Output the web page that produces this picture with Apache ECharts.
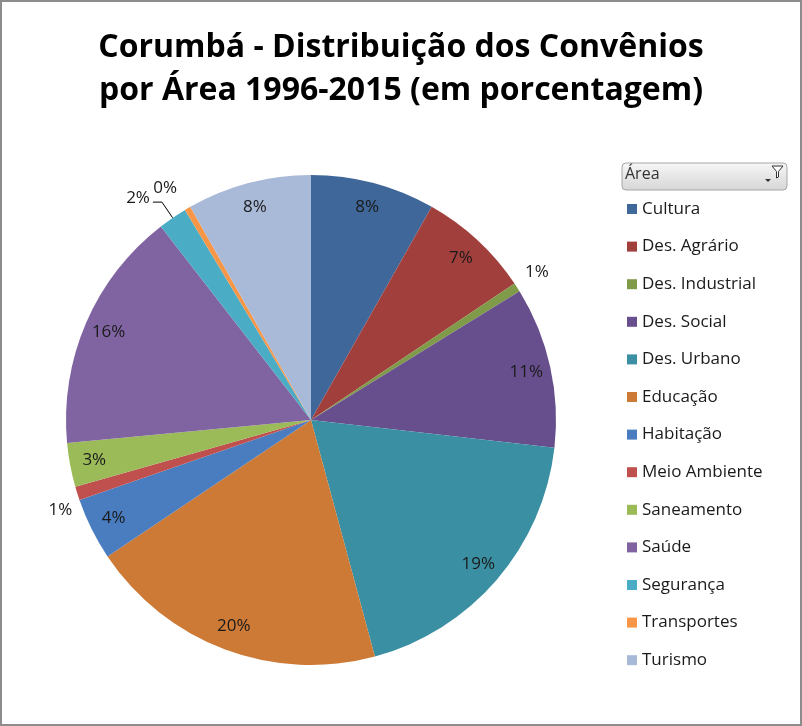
<!DOCTYPE html>
<html>
<head>
<meta charset="utf-8">
<script src="https://cdn.jsdelivr.net/npm/echarts@6/dist/echarts.min.js"></script>
<style>
  html, body { margin: 0; padding: 0; background: #fff; }
  #chart {
    width: 802px;
    height: 726px;
    box-sizing: border-box;
    border: 2px solid #8c8c8c;
  }
</style>
</head>
<body>
<div id="chart"></div>
<script>
const areas = ['Cultura', 'Des. Agrário', 'Des. Industrial', 'Des. Social', 'Des. Urbano', 'Educação',
  'Habitação', 'Meio Ambiente', 'Saneamento', 'Saúde', 'Segurança', 'Transportes', 'Turismo']
const shares = [8.2, 7.4, 0.6, 10.6, 19.0, 19.8, 4.1, 0.9, 2.9, 16.0, 1.9, 0.4, 8.2]

const colors = ['#3f679a', '#a13f3c', '#7f9a48', '#674e8c', '#3a8fa3', '#cd7a37',
  '#4a7dc0', '#c0504d', '#9bbb59', '#8064a2', '#4bacc6', '#f79646', '#a9b9d8']

// small slices get their labels outside, like Excel's best fit
const outside = {
  2: { length: 6, length2: 0, line: false, dy: -12 },
  7: { length: 2, length2: 0, line: false, dy: 16 },
  10: { length: 19, length2: 9, line: true, dy: -4 },
  11: { length: 15, length2: 0, line: false, dy: -7 }
}

const font = '"Open Sans", "Noto Sans", sans-serif'
const CX = 309
const CY = 418
const R = 245

const chart = echarts.init(document.getElementById('chart'), null, { renderer: 'canvas' })

function pctLabel(p) {
  return Math.round(p.percent) + '%'
}

const mainData = areas.map((name, i) => {
  const o = outside[i]
  const item = { name: name, value: shares[i] }
  if (o) {
    item.label = { show: true, position: 'outside' }
    item.labelLine = { show: o.line, length: o.length, length2: o.length2 }
  }
  return item
})

const innerLabelData = areas.map((name, i) => {
  return { name: name, value: shares[i], label: { show: !outside[i] } }
})

const option = {
  color: colors,
  animation: false,
  title: {
    text: 'Corumbá - Distribuição dos Convênios\npor Área 1996-2015 (em porcentagem)',
    left: 'center',
    top: 19,
    textStyle: {
      fontFamily: font,
      fontSize: 32,
      fontWeight: 'bold',
      color: '#000',
      lineHeight: 43
    }
  },
  legend: {
    orient: 'vertical',
    left: 620,
    top: 192,
    data: areas,
    icon: 'rect',
    itemWidth: 10,
    itemHeight: 10,
    itemGap: 17.6,
    selectedMode: false,
    textStyle: {
      fontFamily: font,
      fontSize: 17,
      color: '#1a1a1a',
      lineHeight: 20,
      padding: [0, 0, 0, 0]
    }
  },
  graphic: [
    {
      type: 'rect',
      shape: { x: 620, y: 161, width: 165, height: 27, r: 4 },
      style: {
        fill: new echarts.graphic.LinearGradient(0, 0, 0, 1, [
          { offset: 0, color: '#f7f7f7' },
          { offset: 1, color: '#d6d6d6' }
        ]),
        stroke: '#a6a6a6',
        lineWidth: 1
      }
    },
    {
      type: 'text',
      x: 623,
      y: 164,
      style: { text: 'Área', fontFamily: font, fontSize: 16, fill: '#333' }
    },
    {
      type: 'polygon',
      shape: { points: [[770, 164], [781, 164], [776.5, 169.5], [776.5, 175], [774.5, 176], [774.5, 169.5]] },
      style: { fill: '#fff', stroke: '#333', lineWidth: 1 }
    },
    {
      type: 'polygon',
      shape: { points: [[763, 177], [769, 177], [766, 180]] },
      style: { fill: '#333' }
    }
  ],
  series: [
    {
      name: 'Área',
      type: 'pie',
      center: [CX, CY],
      radius: R,
      startAngle: 90,
      clockwise: true,
      avoidLabelOverlap: false,
      emphasis: { disabled: true },
      itemStyle: { borderWidth: 0 },
      label: {
        show: false,
        formatter: pctLabel,
        fontFamily: font,
        fontSize: 17,
        color: '#1a1a1a',
        distanceToLabelLine: 3
      },
      labelLine: {
        lineStyle: { color: '#000', width: 1 }
      },
      labelLayout: function(params) {
        const o = outside[params.dataIndex]
        return o ? { dy: o.dy } : {}
      },
      data: mainData
    },
    {
      // transparent ring, only used to place the inside labels near the rim
      name: 'rótulos',
      type: 'pie',
      center: [CX, CY],
      radius: [190, R],
      startAngle: 90,
      clockwise: true,
      silent: true,
      avoidLabelOverlap: false,
      emphasis: { disabled: true },
      itemStyle: { color: 'transparent', borderWidth: 0 },
      label: {
        position: 'inside',
        formatter: pctLabel,
        fontFamily: font,
        fontSize: 17,
        color: '#1a1a1a'
      },
      labelLine: { show: false },
      data: innerLabelData
    }
  ]
}

chart.setOption(option)
</script>
</body>
</html>
